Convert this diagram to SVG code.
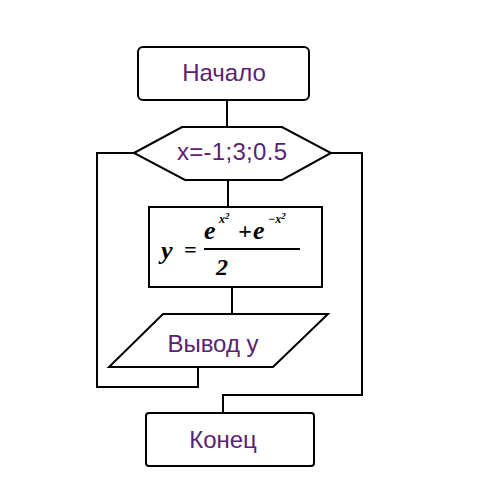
<svg xmlns="http://www.w3.org/2000/svg" width="488" height="500" viewBox="0 0 488 500">
<style>
.shape{fill:#fff;stroke:#000;stroke-width:2}
.conn{fill:none;stroke:#000;stroke-width:2}
.lbl{font-family:"Liberation Sans",Arial,sans-serif;font-size:24px;fill:#5a2270;text-anchor:middle}
.math{font-family:"Liberation Serif","Times New Roman",serif;font-weight:bold;font-style:italic;fill:#000}
</style>
<rect width="488" height="500" fill="#fff"/>
<g id="connectors">
<path class="conn" d="M227,100 V127"/>
<path class="conn" d="M228,180 V207"/>
<path class="conn" d="M232,287 V314"/>
<path class="conn" d="M134,153 H97 V387 H198 V367"/>
<path class="conn" d="M331,153 H362 V395 H223 V413"/>
</g>
<g id="start">
<rect class="shape" x="138" y="47" width="171" height="53" rx="5"/>
<text class="lbl" x="224" y="81">Начало</text>
</g>
<g id="loop">
<polygon class="shape" points="134,153 182,127 282,127 331,153 282,180 185,180"/>
<text class="lbl" x="232" y="160" textLength="110" fill="#4a2a66">x=-1;3;0.5</text>
</g>
<g id="calc">
<rect class="shape" x="149" y="207" width="173" height="80"/>
<text class="math" x="161" y="259" font-size="26">y</text>
<text class="math" x="184" y="257" font-size="22" font-style="normal">=</text>
<line x1="204" y1="249" x2="300" y2="249" stroke="#000" stroke-width="2"/>
<text class="math" x="204" y="239" font-size="26">e</text>
<text class="math" x="219" y="223" font-size="12">x<tspan dy="-4" font-size="9">2</tspan></text>
<text class="math" x="238" y="239" font-size="24" font-style="normal">+</text>
<text class="math" x="253" y="239" font-size="26">e</text>
<text class="math" x="268" y="223" font-size="12">−x<tspan dy="-4" font-size="9">2</tspan></text>
<text class="math" x="222" y="275" font-size="24" font-style="normal" text-anchor="middle">2</text>
</g>
<g id="output">
<polygon class="shape" points="163,314 328,314 273,367 109,367"/>
<text class="lbl" x="213" y="352" fill="#4e1a5c">Вывод у</text>
</g>
<g id="end">
<rect class="shape" x="146" y="413" width="168" height="53" rx="3"/>
<text class="lbl" x="223" y="448">Конец</text>
</g>
</svg>
